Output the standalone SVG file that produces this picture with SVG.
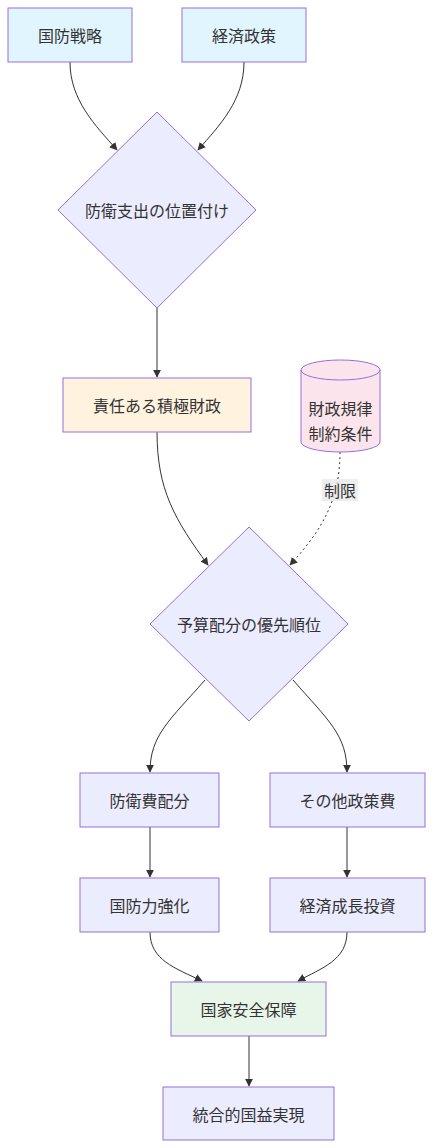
<svg xmlns="http://www.w3.org/2000/svg" width="434" height="1148" viewBox="0 0 434 1148">
<defs>
<marker id="arr" viewBox="0 0 10 10" refX="9" refY="5" markerWidth="8" markerHeight="8" markerUnits="userSpaceOnUse" orient="auto">
<path d="M0,0 L10,5 L0,10 z" fill="#333"/>
</marker>
</defs>
<style>
.n{fill:#ECECFF;stroke:#9370DB;stroke-width:1}
.blue{fill:#e1f5fe}
.orange{fill:#fff3e0}
.pink{fill:#fce4ec}
.green{fill:#e8f5e9}
.t{font-family:"Noto Sans CJK JP","Noto Sans",sans-serif;font-size:16px;fill:#333;text-anchor:middle;dominant-baseline:central}
.e{fill:none;stroke:#333;stroke-width:1;marker-end:url(#arr)}
.d{stroke-dasharray:2,3}
</style>
<rect width="434" height="1148" fill="#fff"/>
<g id="edges">
<path class="e" d="M70,62 C70,100 95,125 117,150"/>
<path class="e" d="M244,62 C244,100 220,125 198,150"/>
<path class="e" d="M157,308 L157,377"/>
<path class="e" d="M157,432 C157,490 175,520 208,565"/>
<path class="e d" d="M340,452 C340,500 322,530 290,565"/>
<path class="e" d="M205,680 C170,720 150,735 150,772"/>
<path class="e" d="M293,680 C328,720 347,735 347,772"/>
<path class="e" d="M150,827 L150,877"/>
<path class="e" d="M347,827 L347,877"/>
<path class="e" d="M150,932 C150,960 175,968 202,981"/>
<path class="e" d="M347,932 C347,960 322,968 298,981"/>
<path class="e" d="M249,1036 L249,1086"/>
<g id="label-seigen">
<rect x="322" y="479" width="36" height="22" fill="#e8e8e8" opacity="0.8"/>
<text class="t" x="340" y="490">制限</text>
</g>
</g>
<g id="kokubou">
<rect class="n blue" x="8" y="8" width="124" height="54"/>
<text class="t" x="70" y="35">国防戦略</text>
</g>
<g id="keizai">
<rect class="n blue" x="182" y="8" width="124" height="54"/>
<text class="t" x="244" y="35">経済政策</text>
</g>
<g id="ichizuke">
<polygon class="n" points="157,112 256,210 157,308 58,210"/>
<text class="t" x="157" y="210">防衛支出の位置付け</text>
</g>
<g id="sekkyoku">
<rect class="n orange" x="63" y="378" width="188" height="54"/>
<text class="t" x="157" y="405">責任ある積極財政</text>
</g>
<g id="kiritsu">
<path class="n pink" d="M301,370 A39.5,10 0 0 1 380,370 L380,442 A39.5,10 0 0 1 301,442 Z"/>
<path d="M301,370 A39.5,10 0 0 0 380,370" fill="none" stroke="#9370DB" stroke-width="1"/>
<text class="t" x="340.5" y="408">財政規律</text>
<text class="t" x="340.5" y="433">制約条件</text>
</g>
<g id="yuusen">
<polygon class="n" points="249,527 348,624 249,721 150,624"/>
<text class="t" x="249" y="624">予算配分の優先順位</text>
</g>
<g id="boueihi">
<rect class="n" x="80" y="773" width="139" height="54"/>
<text class="t" x="149.5" y="800">防衛費配分</text>
</g>
<g id="sonota">
<rect class="n" x="270" y="773" width="155" height="54"/>
<text class="t" x="347.5" y="800">その他政策費</text>
</g>
<g id="kyouka">
<rect class="n" x="80" y="878" width="139" height="54"/>
<text class="t" x="149.5" y="905">国防力強化</text>
</g>
<g id="seichou">
<rect class="n" x="270" y="878" width="155" height="54"/>
<text class="t" x="347.5" y="905">経済成長投資</text>
</g>
<g id="anzen">
<rect class="n green" x="171" y="982" width="155" height="54"/>
<text class="t" x="248.5" y="1009">国家安全保障</text>
</g>
<g id="kokueki">
<rect class="n" x="163" y="1087" width="171" height="53"/>
<text class="t" x="248.5" y="1113.5">統合的国益実現</text>
</g>
</svg>
